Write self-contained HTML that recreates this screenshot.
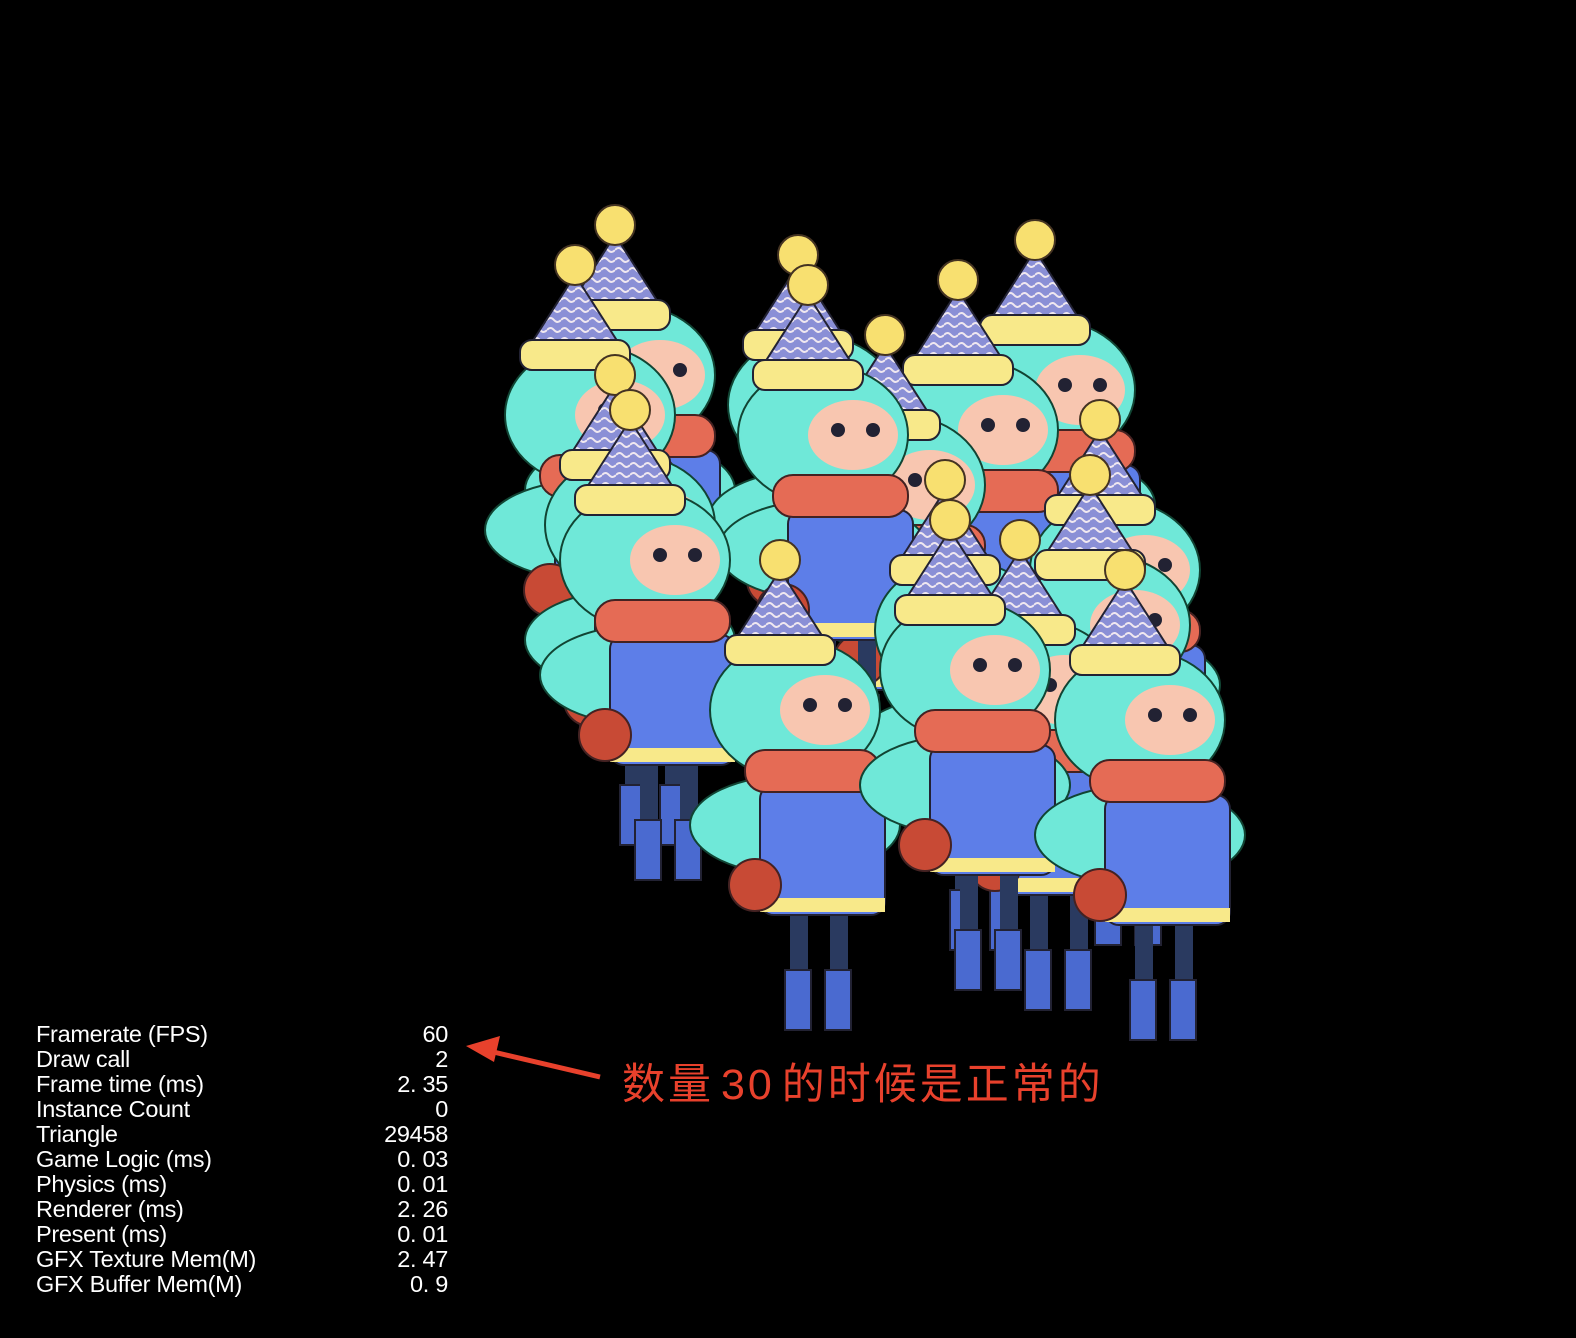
<!DOCTYPE html>
<html><head><meta charset="utf-8"><style>
html,body{margin:0;padding:0;background:#000;width:1576px;height:1338px;overflow:hidden}
.st{position:absolute;left:36px;color:#fff;font:23.5px "Liberation Sans",sans-serif;line-height:25px;top:1022px;letter-spacing:-0.3px}
.st div{display:flex;width:412px;justify-content:space-between;height:25px}
.cn{position:absolute;left:622px;top:1050px;color:#e8412c;font:43px "Liberation Sans","Noto Sans CJK SC",sans-serif;letter-spacing:3px;word-spacing:-8px}
</style></head><body>
<svg width="1576" height="1338" style="position:absolute;left:0;top:0">
<defs>
<pattern id="hs" width="14" height="10" patternUnits="userSpaceOnUse"><rect width="14" height="10" fill="#8a8fd6"/><path d="M0 5 q3.5 -4 7 0 t7 0" stroke="#f0e8f0" stroke-width="2" fill="none"/></pattern>
<g id="c">
<ellipse cx="15" cy="265" rx="105" ry="50" fill="#6fe8d8" stroke="#143" stroke-width="2"/>
<rect x="10" y="355" width="18" height="70" fill="#2a3a60"/><rect x="50" y="355" width="18" height="70" fill="#2a3a60"/>
<rect x="5" y="410" width="26" height="60" fill="#4a6ad0" stroke="#223" stroke-width="2"/><rect x="45" y="410" width="26" height="60" fill="#4a6ad0" stroke="#223" stroke-width="2"/>
<rect x="-20" y="225" width="125" height="130" rx="14" fill="#5d7ee8" stroke="#223" stroke-width="2"/>
<rect x="-20" y="338" width="125" height="14" fill="#f8e98a"/>
<circle cx="-25" cy="325" r="26" fill="#c84a35" stroke="#422" stroke-width="2"/>
<ellipse cx="15" cy="150" rx="85" ry="70" fill="#6fe8d8" stroke="#143" stroke-width="2"/>
<ellipse cx="45" cy="150" rx="45" ry="35" fill="#f8c6b0"/>
<circle cx="30" cy="145" r="7" fill="#223"/><circle cx="65" cy="145" r="7" fill="#223"/>
<rect x="-35" y="190" width="135" height="42" rx="20" fill="#e56b55" stroke="#422" stroke-width="2"/>
<polygon points="0,10 -48,85 48,85" fill="url(#hs)" stroke="#223" stroke-width="2"/>
<rect x="-55" y="75" width="110" height="30" rx="12" fill="#f8e98a" stroke="#223" stroke-width="2"/>
<circle cx="0" cy="0" r="20" fill="#f8e070" stroke="#432" stroke-width="2"/>
</g></defs>
<use href="#c" x="615" y="225"/>
<use href="#c" x="1035" y="240"/>
<use href="#c" x="575" y="265"/>
<use href="#c" x="958" y="280"/>
<use href="#c" x="798" y="255"/>
<use href="#c" x="885" y="335"/>
<use href="#c" x="808" y="285"/>
<use href="#c" x="1100" y="420"/>
<use href="#c" x="615" y="375"/>
<use href="#c" x="945" y="480"/>
<use href="#c" x="1090" y="475"/>
<use href="#c" x="630" y="410"/>
<use href="#c" x="780" y="560"/>
<use href="#c" x="1020" y="540"/>
<use href="#c" x="950" y="520"/>
<use href="#c" x="1125" y="570"/>
<path d="M600 1077 L485 1050" stroke="#e8412c" stroke-width="5"/>
<polygon points="466,1046 500,1036 494,1062" fill="#e8412c"/>
</svg>
<div class="st">
<div><span>Framerate (FPS)</span><span>60</span></div>
<div><span>Draw call</span><span>2</span></div>
<div><span>Frame time (ms)</span><span>2. 35</span></div>
<div><span>Instance Count</span><span>0</span></div>
<div><span>Triangle</span><span>29458</span></div>
<div><span>Game Logic (ms)</span><span>0. 03</span></div>
<div><span>Physics (ms)</span><span>0. 01</span></div>
<div><span>Renderer (ms)</span><span>2. 26</span></div>
<div><span>Present (ms)</span><span>0. 01</span></div>
<div><span>GFX Texture Mem(M)</span><span>2. 47</span></div>
<div><span>GFX Buffer Mem(M)</span><span>0. 9</span></div>
</div>
<div class="cn">数量 30 的时候是正常的</div>
</body></html>
